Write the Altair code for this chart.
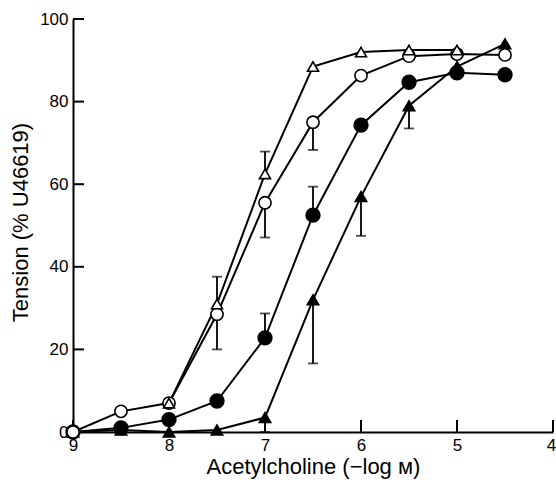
import altair as alt
import pandas as pd

# ---- data ----
x_open_tri = [8, 7.5, 7, 6.5, 6, 5.5, 5]
y_open_tri = [7, 31, 62.5, 88.5, 92, 92.5, 92.5]

x_open_circ = [9, 8.5, 8, 7.5, 7, 6.5, 6, 5.5, 5, 4.5]
y_open_circ = [0, 5, 7, 28.5, 55.5, 75, 86.3, 91, 91.5, 91.3]

x_fill_circ = [9, 8.5, 8, 7.5, 7, 6.5, 6, 5.5, 5, 4.5]
y_fill_circ = [0, 1, 3, 7.5, 22.8, 52.5, 74.3, 84.7, 87, 86.5]

x_fill_tri = [9, 8.5, 8, 7.5, 7, 6.5, 6, 5.5, 5, 4.5]
y_fill_tri = [0, 0.5, 0, 0.5, 3.5, 32, 57, 79, 88.5, 94]

# error bars (one-sided): series, x, mean, end
err_series = ["open_tri", "open_tri", "open_circ", "open_circ", "open_circ",
              "fill_circ", "fill_circ", "fill_tri", "fill_tri", "fill_tri", "fill_tri"]
err_x = [7.5, 7, 7.5, 7, 6.5, 7, 6.5, 7, 6.5, 6, 5.5]
err_mean = [31, 62.5, 28.5, 55.5, 75, 22.8, 52.5, 3.5, 32, 57, 79]
err_end = [37.6, 67.9, 20.0, 47.1, 68.3, 28.7, 59.4, 0, 16.6, 47.5, 73.5]

x_ticks = [9, 8, 7, 6, 5, 4]
y_ticks = [0, 20, 40, 60, 80, 100]

W, H = 480, 413
FONT = "Liberation Sans"

series = [("open_tri", x_open_tri, y_open_tri),
          ("open_circ", x_open_circ, y_open_circ),
          ("fill_circ", x_fill_circ, y_fill_circ),
          ("fill_tri", x_fill_tri, y_fill_tri)]
rows = []
for name, xs_, ys_ in series:
    for a, b in zip(xs_, ys_):
        rows.append({"series": name, "x": a, "y": b})
df = pd.DataFrame(rows)
edf = pd.DataFrame({"series": err_series, "x": err_x, "mean": err_mean, "end": err_end})

xs = alt.Scale(domain=[4, 9], reverse=True, nice=False, zero=False)
ys = alt.Scale(domain=[0, 100], nice=False)

xaxis = alt.Axis(values=x_ticks, format="d", ticks=False, grid=False,
                 domainColor="black", domainWidth=2, labelFont=FONT, labelFontSize=17,
                 labelColor="black", labelPadding=5, labelFlush=False,
                 labelOffset={"condition": {"test": "datum.value == 4", "value": -2}, "value": 0},
                 title="Acetylcholine (\u2212log \u043c)", titleFont=FONT, titleFontSize=22,
                 titleFontWeight="normal", titleColor="black", titlePadding=3)
yaxis = alt.Axis(values=y_ticks, format="d", ticks=False, grid=False,
                 domainColor="black", domainWidth=2, labelFont=FONT, labelFontSize=17,
                 labelColor="black", labelPadding=5, labelFlush=False,
                 title="Tension (% U46619)", titleFont=FONT, titleFontSize=22,
                 titleFontWeight="normal", titleColor="black",
                 titleX=-53, titleY=203, titleAlign="center", titleBaseline="middle",
                 titleAngle=270)

base = alt.Chart(df)

lines = base.mark_line(color="black", strokeWidth=2).encode(
    x=alt.X("x:Q", scale=xs, axis=xaxis),
    y=alt.Y("y:Q", scale=ys, axis=yaxis),
    detail="series:N",
    order="x:Q",
)

ebase = alt.Chart(edf)
err_rules = ebase.mark_rule(color="black", strokeWidth=1.8).encode(
    x=alt.X("x:Q", scale=xs), y=alt.Y("mean:Q", scale=ys), y2="end:Q")
err_caps = ebase.mark_tick(color="black", thickness=1.8, size=10, orient="horizontal").encode(
    x=alt.X("x:Q", scale=xs), y=alt.Y("end:Q", scale=ys))

def pts(name, shape, filled, size):
    return alt.Chart(df[df.series == name]).mark_point(
        shape=shape, filled=True, size=size,
        fill="black" if filled else "white", stroke="black",
        strokeWidth=1.6, opacity=1).encode(
        x=alt.X("x:Q", scale=xs), y=alt.Y("y:Q", scale=ys))

p_fc = pts("fill_circ", "circle", True, 190)
p_oc = pts("open_circ", "circle", False, 150)
p_ft = pts("fill_tri", "triangle-up", True, 130)
p_ot = pts("open_tri", "triangle-up", False, 120)

ytk = alt.Chart(pd.DataFrame({"t": y_ticks})).mark_rule(color="black", strokeWidth=2).encode(
    y=alt.Y("t:Q", scale=ys), x=alt.value(0), x2=alt.value(11))
xtk = alt.Chart(pd.DataFrame({"t": x_ticks})).mark_rule(color="black", strokeWidth=2).encode(
    x=alt.X("t:Q", scale=xs), y=alt.value(H), y2=alt.value(H - 12))

chart = alt.layer(lines, err_rules, err_caps, ytk, xtk, p_fc, p_ft, p_oc, p_ot).properties(
    width=W, height=H,
    autosize=alt.AutoSizeParams(type="none"),
    padding={"left": 73, "top": 19, "right": 3, "bottom": 48},
    background="white",
).configure_view(stroke=None)

chart.save("out.html", embed_options={"renderer": "svg", "actions": False})
